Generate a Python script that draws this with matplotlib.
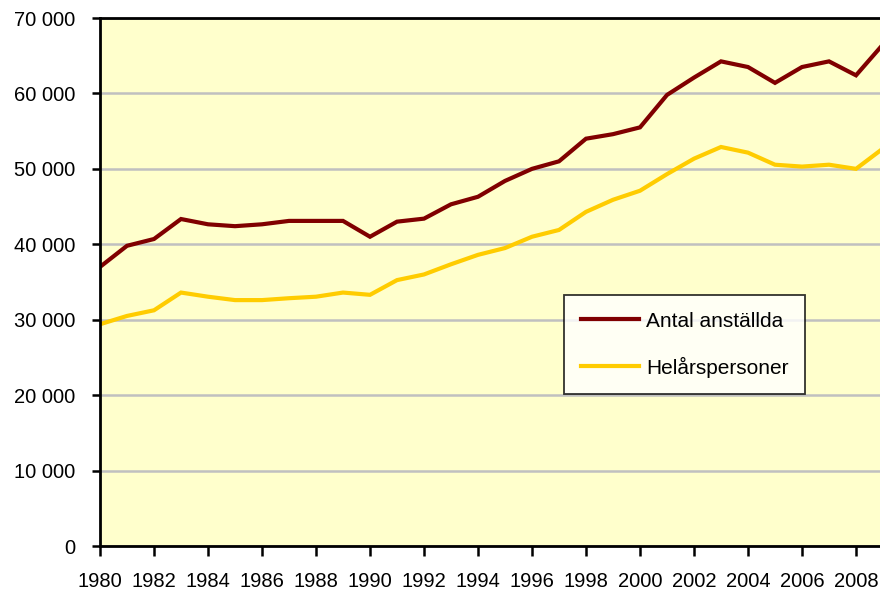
import matplotlib
matplotlib.use("Agg")
import matplotlib.pyplot as plt
from matplotlib.ticker import FuncFormatter

years = list(range(1980, 2010))
antal_anstallda = [37000, 39800, 40700, 43350, 42650, 42400, 42650, 43100, 43100, 43100,
                   41000, 43000, 43400, 45300, 46300, 48400, 50000, 51000, 54000, 54600,
                   55500, 59800, 62100, 64250, 63500, 61400, 63500, 64250, 62400, 66500]
helarspersoner = [29400, 30500, 31250, 33600, 33050, 32600, 32600, 32850, 33050, 33600,
                  33300, 35250, 36000, 37350, 38600, 39500, 41000, 41900, 44300, 45900,
                  47100, 49300, 51350, 52900, 52150, 50550, 50300, 50550, 50000, 52700]
series_labels = ["Antal anställda", "Helårspersoner"]
x_ticks = list(range(1980, 2010, 2))
y_ticks = list(range(0, 70001, 10000))

plt.rcParams['font.family'] = ['Liberation Sans', 'DejaVu Sans']
fig = plt.figure(figsize=(8.8, 5.91), dpi=100)
ax = fig.add_axes([100/880, 45/591, 783/880, 528/591])
ax.set_facecolor('#FFFFCC')

ax.plot(years, antal_anstallda, color='#800000', lw=3.0, label=series_labels[0], solid_joinstyle='miter')
ax.plot(years, helarspersoner, color='#FFCC00', lw=3.0, label=series_labels[1], solid_joinstyle='miter')

ax.set_xlim(1980, 2009)
ax.set_ylim(0, 70000)
ax.set_xticks(x_ticks)
ax.set_yticks(y_ticks)
ax.yaxis.set_major_formatter(FuncFormatter(lambda v, p: f"{int(v):,}".replace(",", " ")))
ax.grid(axis='y', color='#c0c0c0', lw=1.8)
ax.set_axisbelow(True)
ax.tick_params(axis='y', direction='out', length=6, width=1.8, pad=12, labelsize=14.5)
ax.tick_params(axis='x', direction='out', length=7, width=1.8, pad=12, labelsize=14.5)
for s in ['left', 'bottom', 'top']:
    ax.spines[s].set_linewidth(2.0)
    ax.spines[s].set_color('black')
ax.spines['right'].set_visible(False)

leg = fig.legend(loc='upper left', bbox_to_anchor=(564/880, 1 - 295/591), borderaxespad=0,
                 fontsize=15, frameon=True, fancybox=False, edgecolor='black',
                 handlelength=2.8, handletextpad=0.35, labelspacing=1.25,
                 borderpad=0.8)
leg.get_frame().set_linewidth(1.3)
leg.get_frame().set_facecolor('white')

fig.savefig('out.png', dpi=100, facecolor='white')
